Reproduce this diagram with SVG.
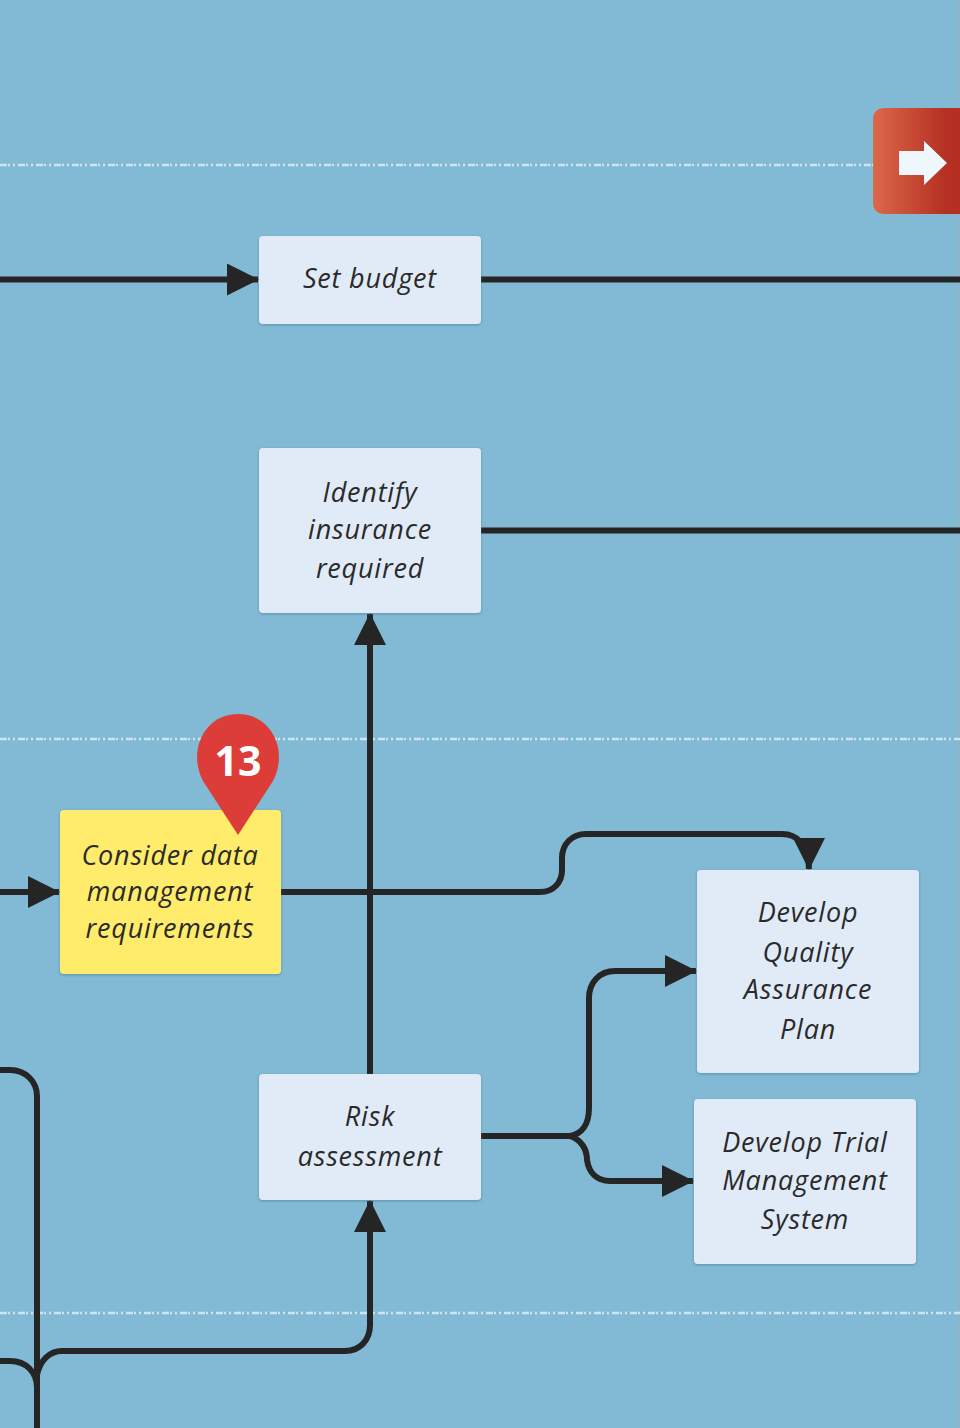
<svg xmlns="http://www.w3.org/2000/svg" width="960" height="1428" viewBox="0 0 960 1428">
<style>
.lane{stroke:#e4eff5;stroke-width:2.5;stroke-dasharray:7 1 2 3 2 3;fill:none;opacity:.8}
.c{fill:none;stroke:#252525;stroke-width:6}
.n{fill:#e1ebf7;filter:url(#s)}
.y{fill:#ffec6b;filter:url(#s)}
text{font-family:"Open Sans","Noto Sans",sans-serif;font-style:italic;font-size:27px;letter-spacing:.8px;fill:#2a2a2a;text-anchor:middle}
</style>
<defs>
<filter id="s" x="-5%" y="-5%" width="110%" height="110%"><feDropShadow dx="0" dy="1" stdDeviation="1.5" flood-color="#44708c" flood-opacity=".6"/></filter>
<linearGradient id="g"><stop offset="0" stop-color="#db6849"/><stop offset=".85" stop-color="#b52f22"/><stop offset="1" stop-color="#b52f22"/></linearGradient>
<marker id="a" markerUnits="userSpaceOnUse" markerWidth="32" markerHeight="32" refX="31" refY="16" orient="auto"><path d="M0 0L32 16L0 32Z" fill="#252525"/></marker>
</defs>
<rect width="960" height="1428" fill="#82bad6"/>
<rect x="957" width="3" height="1428" fill="#8ab5cc"/>
<g id="lanes">
<path class="lane" d="M0 165H873"/>
<path class="lane" d="M0 739H960"/>
<path class="lane" d="M0 1313H960"/>
</g>
<g id="connectors">
<path class="c" d="M0 279.500H258" marker-end="url(#a)"/>
<path class="c" d="M481 279.500H960"/>
<path class="c" d="M481 530.500H960"/>
<path class="c" d="M370 1074V614" marker-end="url(#a)"/>
<path class="c" d="M0 892H59" marker-end="url(#a)"/>
<path class="c" d="M281 892H540C554 892 562 882 562 870V858C562 844 572 834 586 834H782C797 834 809 845 809 869" marker-end="url(#a)"/>
<path class="c" d="M481 1136H570C582 1134 589 1124 589 1108V998C589 982 600 971 615 971H696" marker-end="url(#a)"/>
<path class="c" d="M570 1136C582 1140 587 1150 587 1160C589 1173 597 1181 610 1181H693" marker-end="url(#a)"/>
<path class="c" d="M0 1070H10C26 1070 37 1082 37 1096V1428"/>
<path class="c" d="M0 1361H10C26 1361 37 1372 37 1388"/>
<path class="c" d="M37 1375C40 1360 50 1351 62 1351H345C360 1351 370 1340 370 1325V1201" marker-end="url(#a)"/>
</g>
<g id="set-budget"><rect class="n" x="259" y="236" width="222" height="88" rx="4"/><text x="370" y="288">Set budget</text></g>
<g id="identify-insurance"><rect class="n" x="259" y="448" width="222" height="165" rx="4"/><text x="370" y="502">Identify</text><text x="370" y="539">insurance</text><text x="370" y="578">required</text></g>
<g id="consider-data"><rect class="y" x="60" y="810" width="221" height="164" rx="4"/><text x="170" y="865">Consider data</text><text x="170" y="901">management</text><text x="170" y="938">requirements</text></g>
<g id="risk-assessment"><rect class="n" x="259" y="1074" width="222" height="126" rx="4"/><text x="370" y="1126">Risk</text><text x="370" y="1166">assessment</text></g>
<g id="develop-qa"><rect class="n" x="697" y="870" width="222" height="203" rx="4"/><text x="808" y="922">Develop</text><text x="808" y="962">Quality</text><text x="808" y="999">Assurance</text><text x="808" y="1039">Plan</text></g>
<g id="develop-trial"><rect class="n" x="694" y="1099" width="222" height="165" rx="4"/><text x="805" y="1152">Develop Trial</text><text x="805" y="1190">Management</text><text x="805" y="1229">System</text></g>
<g id="pin-13"><path d="M238 835L203 781C187 750 205 714 238 714C271 714 289 750 273 781Z" fill="#dd3d38"/><text x="238" y="776" style="font-family:'Open Sans',sans-serif;font-style:normal;font-weight:700;font-size:41px;letter-spacing:0;fill:#fff">13</text></g>
<g id="next-button"><path d="M960 108H885Q873 108 873 120V202Q873 214 885 214H960Z" fill="url(#g)"/><path d="M899 151H924V141L947 163L924 185V175H899Z" fill="#eff6fc"/></g>
</svg>
